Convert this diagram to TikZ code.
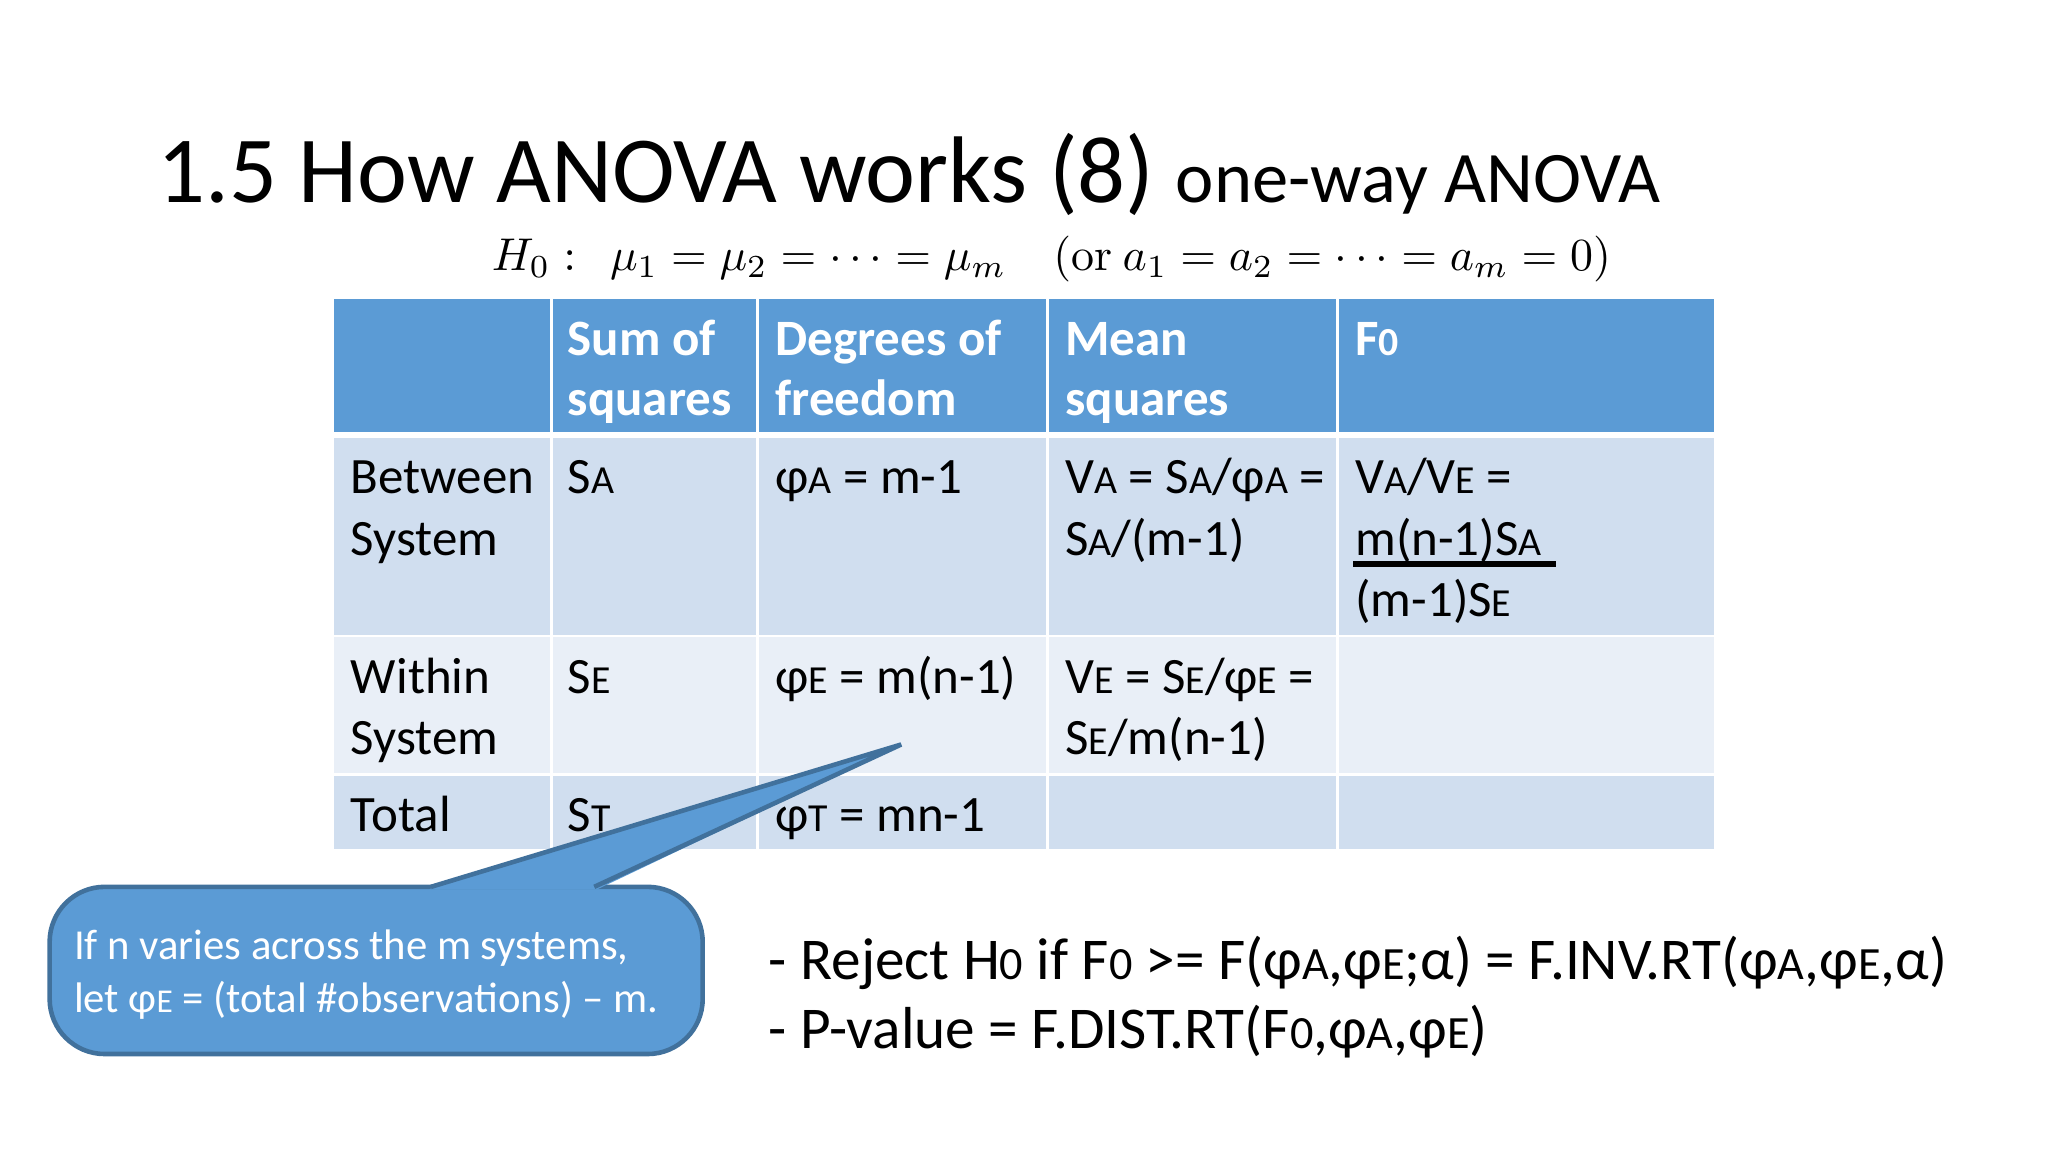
\documentclass[tikz,border=0pt]{standalone}
\usepackage[no-math]{fontspec}
\setmainfont{Carlito}
\newcommand\sm[1]{\scalebox{0.78}{#1}}
\definecolor{hdr}{HTML}{5B9BD5}
\definecolor{rowa}{HTML}{D0DEEF}
\definecolor{rowb}{HTML}{E9EFF7}
\definecolor{cbord}{HTML}{41719C}
\begin{document}
\begin{tikzpicture}[x=0.01cm,y=-0.01cm,
  cell/.style={anchor=base west,inner sep=0pt,font=\fontsize{11.1pt}{13pt}\selectfont},
  hcell/.style={cell,text=white,font=\fontsize{11.1pt}{13pt}\selectfont\bfseries},
  btxt/.style={anchor=base west,inner sep=0pt,font=\fontsize{12.9pt}{15pt}\selectfont},
  ctxt/.style={anchor=base west,inner sep=0pt,text=white,font=\fontsize{9.3pt}{11pt}\selectfont}]
\useasboundingbox (0,0) rectangle (1568,882);
\fill[white] (0,0) rectangle (1568,882);
\node[anchor=base west,inner sep=0pt] (title) at (120,155) {\fontsize{20.6pt}{24pt}\selectfont 1.5 How ANOVA works (8) \fontsize{15.8pt}{18pt}\selectfont one-way ANOVA};
\node[anchor=base,inner sep=0pt] (hyp) at (805,207) {\fontsize{10.2pt}{12pt}\selectfont $H_0:\ \ \mu_1=\mu_2=\cdots=\mu_m\quad (\mathrm{or}\ a_1=a_2=\cdots=a_m=0)$};
% table
\fill[hdr] (256,229) rectangle (1312,331);
\fill[rowa] (256,335) rectangle (1312,487);
\fill[rowb] (256,487) rectangle (1312,593);
\fill[rowa] (256,593) rectangle (1312,650);
\foreach \x in {422,580,802,1024} \draw[white,line width=0.6pt] (\x,229) -- (\x,650);
\foreach \y in {487,593} \draw[white,line width=0.6pt] (256,\y) -- (1312,\y);
\node[hcell] (h1a) at (434,272) {Sum of};
\node[hcell] (h1b) at (434,318) {squares};
\node[hcell] (h2a) at (593,272) {Degrees of};
\node[hcell] (h2b) at (593,318) {freedom};
\node[hcell] (h3a) at (815,272) {Mean};
\node[hcell] (h3b) at (815,318) {squares};
\node[hcell] (h4) at (1037,272) {F\sm{0}};
\node[cell] (r1a) at (268,378) {Between};
\node[cell] (r1b) at (268,425) {System};
\node[cell] (r1c) at (434,378) {S\sm{A}};
\node[cell] (r1d) at (593,378) {φ\sm{A} = m-1};
\node[cell] (r1e) at (815,378) {V\sm{A} = S\sm{A}/φ\sm{A} =};
\node[cell] (r1f) at (815,425) {S\sm{A}/(m-1)};
\node[cell] (r1g) at (1037,378) {V\sm{A}/V\sm{E} =};
\node[cell] (r1h) at (1037,425) {m(n-1)S\sm{A}};
\node[cell] (r1i) at (1037,472) {(m-1)S\sm{E}};
\draw[black,line width=1.2pt] (1036,432) -- (1191,432);
\node[cell] (r2a) at (268,531) {Within};
\node[cell] (r2b) at (268,578) {System};
\node[cell] (r2c) at (434,531) {S\sm{E}};
\node[cell] (r2d) at (593,531) {φ\sm{E} = m(n-1)};
\node[cell] (r2e) at (815,531) {V\sm{E} = S\sm{E}/φ\sm{E} =};
\node[cell] (r2f) at (815,578) {S\sm{E}/m(n-1)};
\node[cell] (r3a) at (268,637) {Total};
\node[cell] (r3b) at (434,637) {S\sm{T}};
\node[cell] (r3c) at (593,637) {φ\sm{T} = mn-1};
% callout
\coordinate (tip) at (690,570);
\draw[cbord,fill=hdr,line width=1pt,rounded corners=12] (38,679) rectangle (538,807);
\fill[hdr] (328,681) -- (tip) -- (457,681) -- cycle;
\draw[cbord,line width=1pt] (330,679) -- (tip) -- (455,679);
\node[ctxt] (c1) at (56,735) {If n varies across the m systems,};
\node[ctxt] (c2) at (56,775) {let φ\sm{E} = (total \#observations) – m.};
\node[btxt] (b1) at (588,750) {- Reject H\sm{0} if F\sm{0} >= F(φ\sm{A},φ\sm{E};α) = F.INV.RT(φ\sm{A},φ\sm{E},α)};
\node[btxt] (b2) at (588,803) {- P-value = F.DIST.RT(F\sm{0},φ\sm{A},φ\sm{E})};
\end{tikzpicture}
\end{document}
